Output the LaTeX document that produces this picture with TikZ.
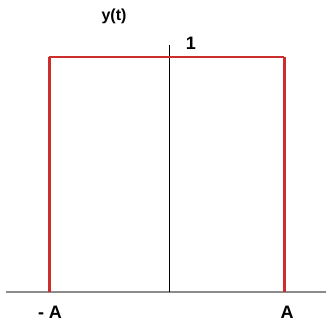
\documentclass[tikz,border=0pt]{standalone}
\usepackage{fontspec}
\setmainfont{Liberation Sans}
\usepackage{xcolor}
\usepackage{tikz}
\usetikzlibrary{positioning, calc}

\definecolor{pulsered}{RGB}{205,45,45}

\begin{document}
\begin{tikzpicture}[x=1pt, y=1pt]
  \useasboundingbox (0,0) rectangle (326,324);

  % Axes
  \draw[black!45, line width=1.2pt] (6,32) -- (326,32);
  \draw[black, line width=0.9pt] (169,32) -- (169,279);

  % Pulse
  \coordinate (bl) at (49,32);
  \coordinate (tl) at (49,267);
  \coordinate (tr) at (284,267);
  \coordinate (br) at (284,32);
  \draw[pulsered, line width=3pt] (bl) -- (tl);
  \draw[pulsered, line width=3pt] (br) -- (tr);
  \draw[pulsered, line width=1.8pt] (tl) -- (tr);

  % Labels
  \node[font=\bfseries\fontsize{16}{16}\selectfont] (ylab) at (114,308) {y(t)};
  \node[font=\bfseries\fontsize{18}{18}\selectfont] (one) at (191,281) {1};
  \node[font=\bfseries\fontsize{18}{18}\selectfont] (mina) at (50,12) {- A};
  \node[font=\bfseries\fontsize{18}{18}\selectfont] (plusa) at (287,12) {A};
\end{tikzpicture}
\end{document}
